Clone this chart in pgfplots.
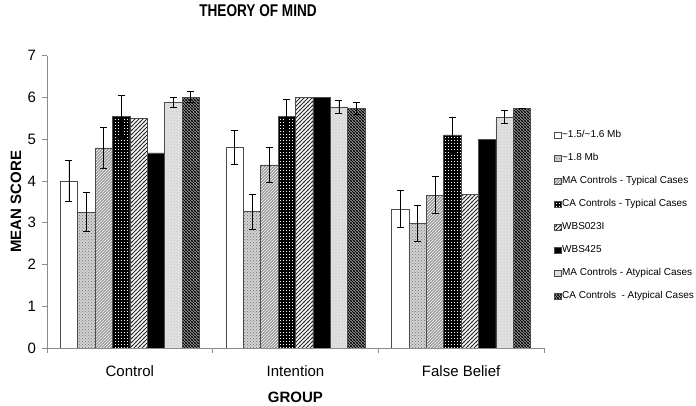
\documentclass[border=0pt]{standalone}
\usepackage{pgfplots}
\pgfplotsset{compat=1.18}
\usepackage{fontspec}
\setmainfont{Liberation Sans}
\usetikzlibrary{patterns}

% a few denser patterns than the tikz defaults
\pgfdeclarepatternformonly{boldgrid}{\pgfqpoint{-1pt}{-1pt}}{\pgfqpoint{4pt}{4pt}}{\pgfqpoint{3pt}{3pt}}{
  \pgfsetlinewidth{1.1pt}
  \pgfpathmoveto{\pgfqpoint{0pt}{0pt}}\pgfpathlineto{\pgfqpoint{3pt}{0pt}}
  \pgfpathmoveto{\pgfqpoint{0pt}{0pt}}\pgfpathlineto{\pgfqpoint{0pt}{3pt}}
  \pgfusepath{stroke}}
\pgfdeclarepatternformonly{nelines}{\pgfqpoint{-1pt}{-1pt}}{\pgfqpoint{5pt}{5pt}}{\pgfqpoint{4pt}{4pt}}{
  \pgfsetlinewidth{0.8pt}
  \pgfpathmoveto{\pgfqpoint{-0.5pt}{-0.5pt}}\pgfpathlineto{\pgfqpoint{4.5pt}{4.5pt}}
  \pgfusepath{stroke}}
\pgfdeclarepatternformonly{nwlines}{\pgfqpoint{-1pt}{-1pt}}{\pgfqpoint{4pt}{4pt}}{\pgfqpoint{3pt}{3pt}}{
  \pgfsetlinewidth{1.1pt}
  \pgfpathmoveto{\pgfqpoint{-0.5pt}{3.5pt}}\pgfpathlineto{\pgfqpoint{3.5pt}{-0.5pt}}
  \pgfusepath{stroke}}

\begin{document}
\begin{tikzpicture}
\path[use as bounding box] (0,0) rectangle (696pt,406pt);
\begin{axis}[
    at={(47pt,58pt)}, anchor=south west,
    scale only axis, width=497pt, height=292.5pt,
    ybar=0pt, bar width=0.105,
    xmin=-0.5, xmax=2.5, ymin=0, ymax=7,
    enlarge x limits=false,
    axis x line*=bottom, axis y line*=left,
    axis line style={black!45, line width=0.6pt},
    xtick={0,1,2}, xticklabels={Control, Intention, False Belief},
    major x tick style={draw=none},
    minor xtick={-0.5,0.5,1.5,2.5},
    minor tick length=5pt, major tick length=5pt,
    tick align=outside,
    every tick/.style={black!45, line width=0.6pt},
    ytick={0,...,7},
    ticklabel style={font=\fontsize{15}{18}\selectfont},
    xticklabel style={yshift=-9pt},
    yticklabel style={xshift=-2.5pt},
    /pgf/number format/assume math mode=true,
    xlabel={GROUP}, ylabel={MEAN SCORE},
    label style={font=\bfseries\fontsize{15}{18}\selectfont},
    xlabel style={at={(axis description cs:0.5,-0.1675)}, anchor=center},
    ylabel style={at={(axis description cs:-0.0624,0.5)}, anchor=center},
    every axis plot/.append style={draw=black!70, line width=0.6pt},
    error bars/error bar style={black, line width=0.8pt},
    error bars/error mark options={rotate=90, mark size=3.5pt, black, line width=0.8pt},
    legend style={draw=none, fill=none, at={(axis description cs:1.02,0.748)}, anchor=north west,
        inner sep=0pt, row sep=11.5pt, column sep=0pt,
        nodes={font=\fontsize{10}{12}\selectfont, inner sep=1pt, text height=7.5pt, text depth=2pt}},
    legend cell align=left,
    legend image code/.code={\draw[#1, line width=0.5pt] (0pt,-3pt) rectangle (6.5pt,3pt);},
]
% ~1.5/~1.6 Mb
\addplot[fill=white, error bars/.cd, y dir=both, y explicit]
  coordinates {(0,4.00) +- (0,0.48) (1,4.80) +- (0,0.41) (2,3.33) +- (0,0.44)};
% ~1.8 Mb
\addplot[fill=black!18, postaction={pattern=crosshatch dots, pattern color=black!55},
  error bars/.cd, y dir=both, y explicit]
  coordinates {(0,3.25) +- (0,0.47) (1,3.26) +- (0,0.42) (2,2.98) +- (0,0.43)};
% MA Controls - Typical Cases
\addplot[fill=black!40, postaction={pattern=north east lines, pattern color=white},
  error bars/.cd, y dir=both, y explicit]
  coordinates {(0,4.79) +- (0,0.48) (1,4.38) +- (0,0.41) (2,3.66) +- (0,0.44)};
% CA Controls - Typical Cases
\addplot[fill=white, postaction={pattern=boldgrid, pattern color=black},
  error bars/.cd, y dir=both, y explicit]
  coordinates {(0,5.54) +- (0,0.50) (1,5.54) +- (0,0.40) (2,5.10) +- (0,0.41)};
% WBS023I
\addplot[fill=white, postaction={pattern=nelines, pattern color=black!85}]
  coordinates {(0,5.49) (1,6.00) (2,3.67)};
% WBS425
\addplot[fill=black]
  coordinates {(0,4.67) (1,6.00) (2,5.00)};
% MA Controls - Atypical Cases
\addplot[fill=black!12, postaction={pattern=dots, pattern color=black!30},
  error bars/.cd, y dir=both, y explicit]
  coordinates {(0,5.87) +- (0,0.12) (1,5.77) +- (0,0.16) (2,5.53) +- (0,0.16)};
% CA Controls - Atypical Cases
\addplot[fill=white, postaction={pattern=nwlines, pattern color=black},
  error bars/.cd, y dir=both, y explicit]
  coordinates {(0,6.00) +- (0,0.13) (1,5.73) +- (0,0.14) (2,5.73) +- (0,0)};
\legend{\textasciitilde1.5/\textasciitilde1.6 Mb, \textasciitilde1.8 Mb, MA Controls - Typical Cases,
  CA Controls - Typical Cases, WBS023I, WBS425, MA Controls - Atypical Cases,
  CA Controls\ \ - Atypical Cases}
\end{axis}
\node at (258pt,395pt) {\scalebox{0.8}[1]{\bfseries\fontsize{17}{20}\selectfont THEORY OF MIND}};
\end{tikzpicture}
\end{document}
